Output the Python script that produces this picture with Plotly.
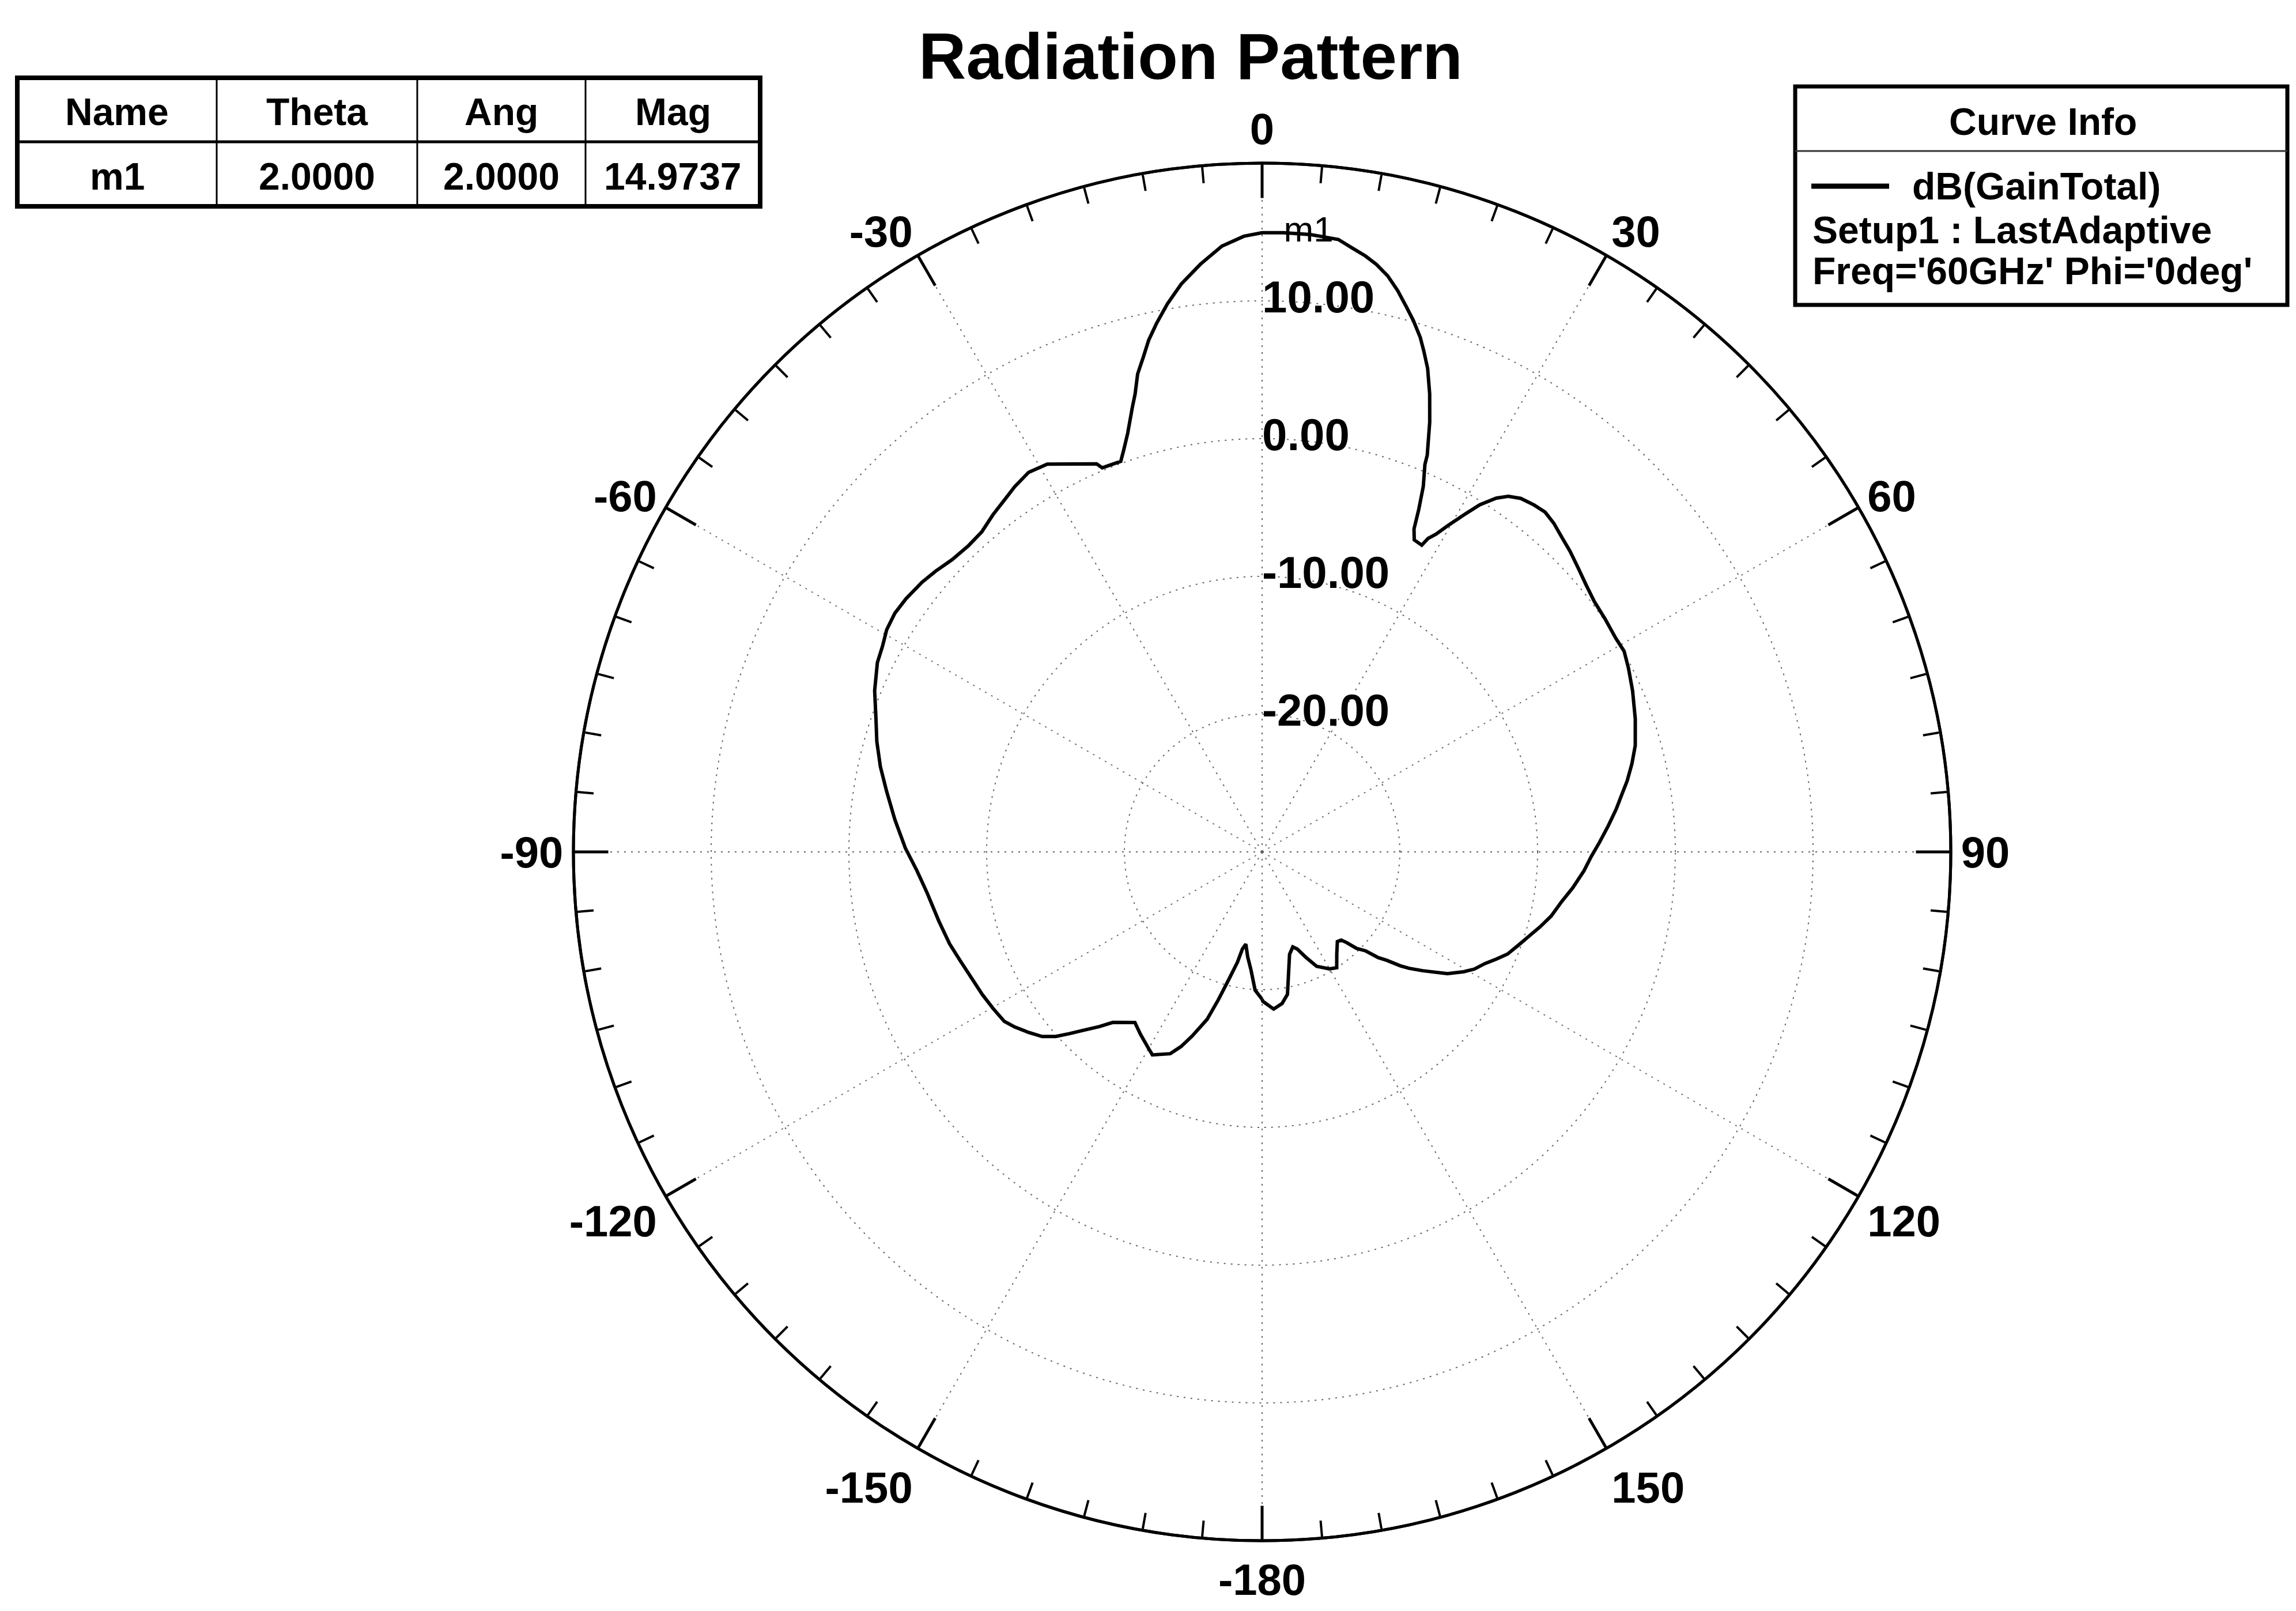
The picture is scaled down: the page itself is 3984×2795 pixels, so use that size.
import plotly.graph_objects as go

# ---------------- data ----------------
theta_deg = [
    -180.0, -177.1, -174.6, -172.2, -170.0, -168.5, -167.4, -165.2, -163.5, -161.8,
    -159.2, -157.4, -155.5, -151.6, -149.8, -146.2, -143.3, -138.8, -137.0, -135.2,
    -133.3, -131.8, -130.0, -127.7, -125.3, -123.3, -120.2, -117.0, -113.4, -109.8,
    -106.4, -102.1, -97.0, -93.1, -89.4, -85.0, -80.9, -77.4, -74.0, -71.0,
    -67.4, -63.8, -61.5, -59.4, -57.0, -54.6, -51.6, -49.3, -46.7, -43.8,
    -41.2, -38.6, -36.3, -34.1, -31.6, -29.0, -26.1, -23.1, -22.6, -19.9,
    -19.0, -17.8, -16.3, -15.5, -14.6, -13.5, -12.5, -11.3, -9.8, -8.1,
    -6.0, -3.8, -1.7, 0.0, 2.0, 4.5, 7.1, 8.4, 9.85, 11.0,
    12.3, 13.6, 14.8, 15.9, 17.1, 17.9, 18.9, 20.1, 21.3, 22.6,
    22.8, 23.8, 24.6, 25.2, 26.0, 27.5, 27.9, 28.7, 29.6, 30.9,
    32.1, 33.5, 34.7, 36.2, 38.1, 39.8, 41.6, 43.6, 45.7, 48.1,
    50.5, 53.0, 55.8, 58.9, 61.0, 63.4, 66.5, 70.4, 74.1, 76.6,
    79.0, 81.0, 83.1, 85.7, 88.4, 90.8, 93.4, 96.6, 99.4, 102.5,
    105.1, 107.6, 110.0, 112.6, 114.6, 116.6, 118.9, 120.8, 123.3, 126.5,
    128.4, 129.5, 131.0, 132.3, 133.7, 135.6, 137.0, 138.1, 140.0, 143.9,
    147.2, 150.1, 154.5, 157.4, 160.1, 162.1, 165.0, 169.9, 172.5, 175.8,
    179.7, 180.0,
]
gain_db = [
    -19.3, -19.95, -21.4, -22.3, -23.2, -22.8, -21.8, -20.3, -18.8, -17.2,
    -15.7, -14.7, -13.9, -13.25, -13.55, -14.1, -14.55, -13.55, -12.66, -11.8,
    -10.76, -9.9, -9.15, -8.57, -8.0, -7.6, -7.4, -7.2, -7.0, -6.7,
    -6.35, -6.0, -5.5, -4.9, -4.1, -3.24, -2.4, -1.6, -0.9, -0.35,
    0.47, 1.13, 1.35, 1.67, 1.8, 1.72, 1.51, 1.26, 0.93, 0.8,
    0.89, 1.32, 1.65, 2.03, 2.35, 2.18, 1.36, 0.62, 0.2, 0.15,
    0.86, 1.92, 3.59, 4.5, 5.85, 6.94, 8.05, 9.12, 10.38, 11.64,
    12.89, 14.07, 14.71, 14.95, 14.97, 14.95, 14.8, 14.35, 13.9, 13.45,
    12.8, 11.9, 10.95, 10.1, 9.06, 8.2, 7.1, 5.4, 3.5, 1.2,
    0.5, -1.0, -2.7, -4.1, -4.8, -4.9, -4.25, -3.7, -2.8, -1.5,
    -0.25, 0.8, 1.4, 1.8, 2.0, 2.1, 1.9, 1.55, 1.24, 0.84,
    0.48, 0.2, 0.1, 0.0, 0.05, -0.25, -0.67, -1.24, -1.83, -2.4,
    -3.0, -3.57, -4.1, -4.8, -5.5, -6.1, -6.6, -7.3, -7.95, -8.5,
    -9.1, -9.7, -10.2, -10.7, -11.3, -11.9, -12.4, -13.0, -13.9, -15.5,
    -16.4, -17.0, -18.0, -18.6, -19.6, -20.2, -21.0, -21.4, -21.5, -20.8,
    -20.0, -20.2, -20.8, -21.7, -22.5, -22.75, -22.3, -19.5, -18.9, -18.56,
    -19.15, -19.3,
]

angle_tick_vals = [0, 30, 60, 90, 120, 150, 180, 210, 240, 270, 300, 330]
angle_tick_text = ["0", "30", "60", "90", "120", "150", "-180", "-150", "-120", "-90", "-60", "-30"]
minor_tick_vals = list(range(0, 360, 5))
radial_range = [-30, 20]
radial_grid_vals = [-20, -10, 0, 10]
radial_grid_text = ["-20.00", "-10.00", "0.00", "10.00"]

marker_name = "m1"
marker_theta = 2.0
marker_mag = 14.9737

table_header = ["Name", "Theta", "Ang", "Mag"]
table_row = ["m1", "2.0000", "2.0000", "14.9737"]

curve_info_title = "Curve Info"
curve_name = "dB(GainTotal)"
curve_info_lines = ["Setup1 : LastAdaptive", "Freq='60GHz' Phi='0deg'"]

chart_title = "Radiation Pattern"

# ---------------- layout helpers ----------------
W, H = 3984, 2795
FONT = "Liberation Sans, Arial, sans-serif"


def fx(px):
    return px / W


def fy(py):
    return 1 - py / H


cx, cy, rad = 2190, 1478, 1195
dom = dict(x=[fx(cx - rad), fx(cx + rad)], y=[fy(cy + rad), fy(cy - rad)])

fig = go.Figure()

# invisible trace to anchor the background polar subplot
fig.add_trace(go.Scatterpolar(r=[radial_range[0]], theta=[0], mode="markers",
                              marker=dict(opacity=0), hoverinfo="skip",
                              showlegend=False, subplot="polar"))

fig.add_trace(go.Scatterpolar(r=gain_db, theta=theta_deg, mode="lines",
                              line=dict(color="black", width=6),
                              name=curve_name, showlegend=False, subplot="polar2"))

fig.add_trace(go.Scatterpolar(r=radial_grid_vals, theta=[0] * len(radial_grid_vals),
                              mode="text", text=radial_grid_text, textposition="middle right",
                              textfont=dict(family=FONT, size=78, color="black", weight="bold"),
                              hoverinfo="skip", showlegend=False, subplot="polar2"))

fig.add_trace(go.Scatterpolar(r=[marker_mag], theta=[marker_theta], mode="text",
                              text=[marker_name], textposition="middle right",
                              textfont=dict(family=FONT, size=62, color="black"),
                              hoverinfo="skip", showlegend=False, subplot="polar2"))

grid_style = dict(showgrid=True, gridcolor="#666666", gridwidth=2, griddash="3px,9px")

fig.update_layout(
    width=W, height=H,
    margin=dict(l=0, r=0, t=0, b=0),
    paper_bgcolor="white",
    plot_bgcolor="white",
    showlegend=False,
    title=dict(text="<b>" + chart_title + "</b>", x=fx(2066), xanchor="center",
               y=fy(97), yanchor="middle",
               font=dict(family=FONT, size=114, color="black")),
    polar=dict(
        domain=dom, bgcolor="white",
        angularaxis=dict(rotation=90, direction="clockwise", tickmode="array",
                         tickvals=minor_tick_vals, ticks="inside", ticklen=28,
                         tickwidth=4, tickcolor="black", showticklabels=False,
                         showgrid=False, showline=True, linecolor="black", linewidth=5),
        radialaxis=dict(range=radial_range, showgrid=False, showline=False,
                        showticklabels=False, ticks="", angle=90),
    ),
    polar2=dict(
        domain=dom, bgcolor="rgba(0,0,0,0)",
        angularaxis=dict(rotation=90, direction="clockwise", tickmode="array",
                         tickvals=angle_tick_vals, ticktext=angle_tick_text,
                         ticks="inside", ticklen=58, tickwidth=5, tickcolor="black",
                         tickfont=dict(family=FONT, size=76, color="black", weight="bold"),
                         showline=True, linecolor="black", linewidth=5, **grid_style),
        radialaxis=dict(range=radial_range, tickmode="array", tickvals=radial_grid_vals,
                        showline=False, showticklabels=False, ticks="", angle=90,
                        **grid_style),
    ),
)

shapes = []
annotations = []

# ---- marker table (top-left) ----
tx0, tx1, ty0, ty1, tymid = 30, 1319, 135, 358, 246
col_edges = [30, 376, 724, 1016, 1319]
shapes.append(dict(type="rect", xref="paper", yref="paper", x0=fx(tx0), x1=fx(tx1),
                   y0=fy(ty1), y1=fy(ty0), line=dict(color="black", width=8),
                   fillcolor="white", layer="above"))
shapes.append(dict(type="line", xref="paper", yref="paper", x0=fx(tx0), x1=fx(tx1),
                   y0=fy(tymid), y1=fy(tymid), line=dict(color="black", width=5)))
for ce in col_edges[1:-1]:
    shapes.append(dict(type="line", xref="paper", yref="paper", x0=fx(ce), x1=fx(ce),
                       y0=fy(ty1), y1=fy(ty0), line=dict(color="black", width=3)))
for i in range(len(table_header)):
    xc = (col_edges[i] + col_edges[i + 1]) / 2
    annotations.append(dict(text="<b>" + table_header[i] + "</b>", x=fx(xc), y=fy(194),
                            xref="paper", yref="paper", showarrow=False,
                            xanchor="center", yanchor="middle",
                            font=dict(family=FONT, size=66, color="black")))
    annotations.append(dict(text="<b>" + table_row[i] + "</b>", x=fx(xc), y=fy(306),
                            xref="paper", yref="paper", showarrow=False,
                            xanchor="center", yanchor="middle",
                            font=dict(family=FONT, size=66, color="black")))

# ---- curve info box (top-right) ----
lx0, lx1, ly0, ly1 = 3115, 3969, 150, 529
shapes.append(dict(type="rect", xref="paper", yref="paper", x0=fx(lx0), x1=fx(lx1),
                   y0=fy(ly1), y1=fy(ly0), line=dict(color="black", width=7),
                   fillcolor="white", layer="above"))
shapes.append(dict(type="line", xref="paper", yref="paper", x0=fx(lx0), x1=fx(lx1),
                   y0=fy(262), y1=fy(262), line=dict(color="#333333", width=3)))
shapes.append(dict(type="line", xref="paper", yref="paper", x0=fx(3143), x1=fx(3278),
                   y0=fy(323), y1=fy(323), line=dict(color="black", width=9)))
annotations.append(dict(text="<b>" + curve_info_title + "</b>", x=fx(3545), y=fy(211),
                        xref="paper", yref="paper", showarrow=False,
                        xanchor="center", yanchor="middle",
                        font=dict(family=FONT, size=66, color="black")))
annotations.append(dict(text="<b>" + curve_name + "</b>", x=fx(3316), y=fy(323),
                        xref="paper", yref="paper", showarrow=False,
                        xanchor="left", yanchor="middle",
                        font=dict(family=FONT, size=66, color="black")))
for i, line_text in enumerate(curve_info_lines):
    annotations.append(dict(text="<b>" + line_text + "</b>", x=fx(3143), y=fy(399 + 71 * i),
                            xref="paper", yref="paper", showarrow=False,
                            xanchor="left", yanchor="middle",
                            font=dict(family=FONT, size=66, color="black")))

fig.update_layout(shapes=shapes, annotations=annotations)

fig.write_html("out.html")
